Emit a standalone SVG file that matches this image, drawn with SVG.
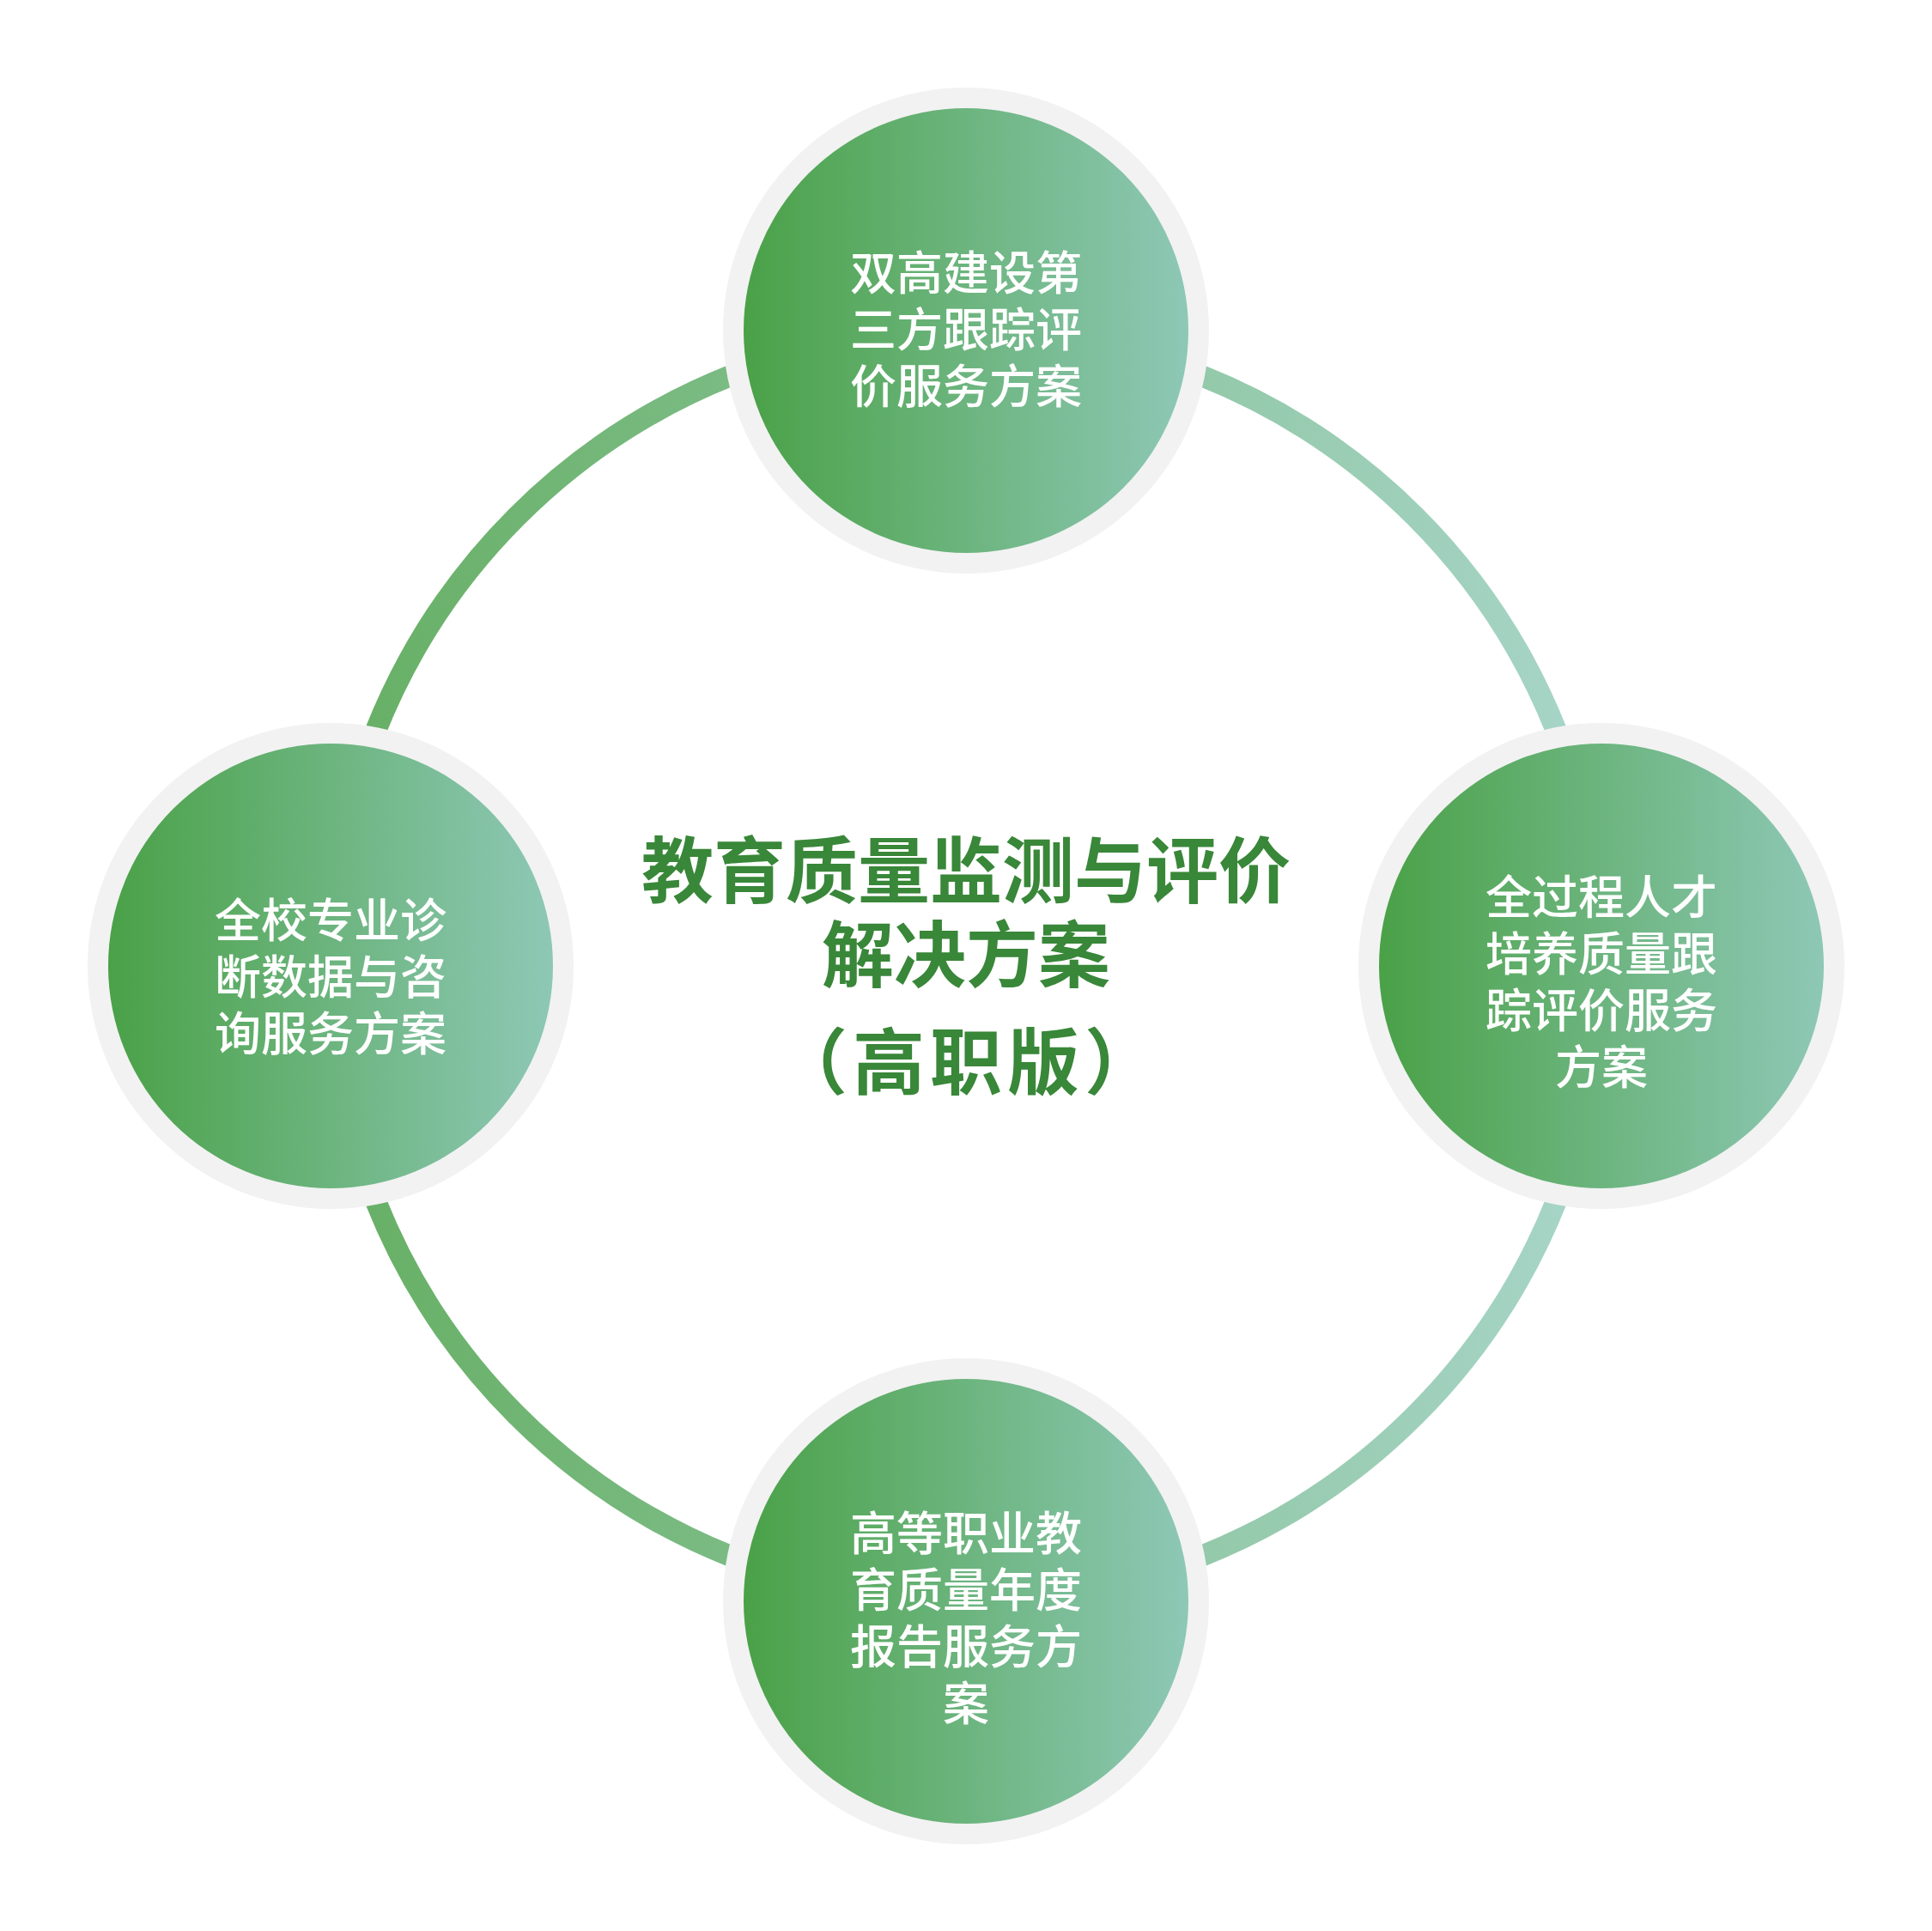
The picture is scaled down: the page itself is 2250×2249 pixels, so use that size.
<svg xmlns="http://www.w3.org/2000/svg" width="2250" height="2249" viewBox="0 0 2250 2249">
  <defs>
    <linearGradient id="ringGrad" gradientUnits="userSpaceOnUse" x1="385" y1="0" x2="1865" y2="0">
      <stop offset="0" stop-color="#66af64"/>
      <stop offset="1" stop-color="#a8d5c9"/>
    </linearGradient>
    <linearGradient id="nodeGrad" x1="0" y1="0" x2="1" y2="0">
      <stop offset="0" stop-color="#4aa147"/>
      <stop offset="1" stop-color="#8ec8b6"/>
    </linearGradient>
    <style>
      .halo { fill: #f2f2f2; }
      .disc { fill: url(#nodeGrad); }
      .label { font-family: "Noto Sans CJK SC", "Noto Sans", sans-serif; font-size: 54px; font-weight: 500; fill: #ffffff; text-anchor: middle; }
      .title { font-family: "Noto Sans CJK SC", "Noto Sans", sans-serif; font-size: 84px; font-weight: 700; fill: #398739; text-anchor: middle; }
    </style>
  </defs>
  <rect width="2250" height="2249" fill="#ffffff"/>
  <g id="connectors">
    <circle cx="1125" cy="1125" r="740" fill="none" stroke="url(#ringGrad)" stroke-width="25"/>
  </g>
  <g id="node-top">
    <circle class="halo" cx="1125" cy="385" r="283"/>
    <circle class="disc" cx="1125" cy="385" r="259"/>
    <text class="label" x="1125" y="338">双高建设第</text>
    <text class="label" x="1125" y="404">三方跟踪评</text>
    <text class="label" x="1125" y="470">价服务方案</text>
  </g>
  <g id="node-left">
    <circle class="halo" cx="385" cy="1125" r="283"/>
    <circle class="disc" cx="385" cy="1125" r="259"/>
    <text class="label" x="385" y="1092">全校专业诊</text>
    <text class="label" x="385" y="1158">断数据与咨</text>
    <text class="label" x="385" y="1224">询服务方案</text>
  </g>
  <g id="node-right">
    <circle class="halo" cx="1865" cy="1125" r="283"/>
    <circle class="disc" cx="1865" cy="1125" r="259"/>
    <text class="label" x="1865" y="1065">全过程人才</text>
    <text class="label" x="1865" y="1131">培养质量跟</text>
    <text class="label" x="1865" y="1197">踪评价服务</text>
    <text class="label" x="1865" y="1263">方案</text>
  </g>
  <g id="node-bottom">
    <circle class="halo" cx="1125" cy="1865" r="283"/>
    <circle class="disc" cx="1125" cy="1865" r="259"/>
    <text class="label" x="1125" y="1806">高等职业教</text>
    <text class="label" x="1125" y="1872">育质量年度</text>
    <text class="label" x="1125" y="1938">报告服务方</text>
    <text class="label" x="1125" y="2004">案</text>
  </g>
  <g id="node-center">
    <text class="title" x="1125" y="1045">教育质量监测与评价</text>
    <text class="title" x="1125" y="1143">解决方案</text>
    <text class="title" x="1128" y="1268" letter-spacing="6">（高职版）</text>
  </g>
</svg>
